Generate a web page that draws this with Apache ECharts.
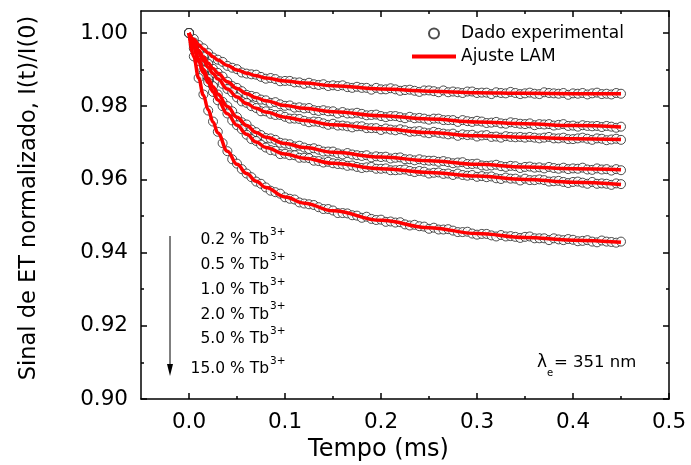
<!DOCTYPE html>
<html>
<head>
<meta charset="utf-8">
<script src="https://cdn.jsdelivr.net/npm/echarts@6.0.0/dist/echarts.min.js"></script>
<style>
  html, body { margin: 0; padding: 0; background: #fff; }
  #chart { width: 691px; height: 465px; }
</style>
</head>
<body>
<div id="chart"></div>
<script>
// tempo das medidas (ms)
var time = [
  0.000,0.005,0.010,0.015,0.020,0.025,0.030,0.035,0.040,0.045,
  0.050,0.055,0.060,0.065,0.070,0.075,0.080,0.085,0.090,0.095,
  0.100,0.105,0.110,0.115,0.120,0.125,0.130,0.135,0.140,0.145,
  0.150,0.155,0.160,0.165,0.170,0.175,0.180,0.185,0.190,0.195,
  0.200,0.205,0.210,0.215,0.220,0.225,0.230,0.235,0.240,0.245,
  0.250,0.255,0.260,0.265,0.270,0.275,0.280,0.285,0.290,0.295,
  0.300,0.305,0.310,0.315,0.320,0.325,0.330,0.335,0.340,0.345,
  0.350,0.355,0.360,0.365,0.370,0.375,0.380,0.385,0.390,0.395,
  0.400,0.405,0.410,0.415,0.420,0.425,0.430,0.435,0.440,0.445,
  0.450
];

// dado experimental, I(t)/I(0)
var exp02 = [
  1.0000,0.9984,0.9967,0.9958,0.9945,0.9933,0.9927,0.9921,0.9910,0.9905,
  0.9901,0.9892,0.9889,0.9887,0.9886,0.9880,0.9875,0.9877,0.9874,0.9868,
  0.9869,0.9869,0.9865,0.9865,0.9861,0.9864,0.9860,0.9858,0.9860,0.9855,
  0.9857,0.9855,0.9857,0.9852,0.9850,0.9853,0.9850,0.9850,0.9845,0.9850,
  0.9846,0.9846,0.9849,0.9846,0.9842,0.9844,0.9845,0.9842,0.9839,0.9843,
  0.9843,0.9841,0.9838,0.9843,0.9838,0.9840,0.9838,0.9836,0.9840,0.9840,
  0.9836,0.9837,0.9837,0.9833,0.9838,0.9836,0.9835,0.9839,0.9836,0.9833,
  0.9835,0.9837,0.9834,0.9833,0.9838,0.9836,0.9835,0.9834,0.9836,0.9831,
  0.9835,0.9834,0.9836,0.9832,0.9835,0.9837,0.9833,0.9834,0.9832,0.9836,
  0.9834
];
var exp05 = [
  1.0000,0.9974,0.9953,0.9936,0.9916,0.9902,0.9891,0.9881,0.9867,0.9855,
  0.9850,0.9841,0.9831,0.9828,0.9825,0.9818,0.9816,0.9809,0.9811,0.9805,
  0.9801,0.9802,0.9796,0.9797,0.9794,0.9795,0.9789,0.9787,0.9789,0.9786,
  0.9786,0.9780,0.9784,0.9780,0.9780,0.9782,0.9779,0.9775,0.9776,0.9777,
  0.9773,0.9770,0.9773,0.9773,0.9770,0.9767,0.9771,0.9767,0.9768,0.9766,
  0.9763,0.9766,0.9766,0.9762,0.9762,0.9762,0.9757,0.9762,0.9759,0.9757,
  0.9760,0.9758,0.9754,0.9755,0.9757,0.9753,0.9752,0.9756,0.9754,0.9752,
  0.9751,0.9753,0.9748,0.9751,0.9750,0.9751,0.9747,0.9749,0.9751,0.9746,
  0.9747,0.9744,0.9748,0.9746,0.9745,0.9746,0.9743,0.9746,0.9744,0.9741,
  0.9744
];
var exp10 = [
  1.0000,0.9969,0.9949,0.9925,0.9905,0.9891,0.9872,0.9861,0.9847,0.9838,
  0.9824,0.9813,0.9809,0.9800,0.9795,0.9786,0.9786,0.9779,0.9776,0.9776,
  0.9771,0.9766,0.9766,0.9765,0.9760,0.9756,0.9758,0.9757,0.9753,0.9749,
  0.9752,0.9747,0.9747,0.9745,0.9742,0.9745,0.9745,0.9740,0.9740,0.9740,
  0.9735,0.9739,0.9736,0.9734,0.9737,0.9734,0.9730,0.9731,0.9732,0.9728,
  0.9726,0.9730,0.9727,0.9725,0.9723,0.9725,0.9719,0.9723,0.9721,0.9722,
  0.9717,0.9720,0.9721,0.9716,0.9717,0.9714,0.9718,0.9716,0.9715,0.9716,
  0.9714,0.9716,0.9714,0.9712,0.9714,0.9716,0.9712,0.9712,0.9714,0.9710,
  0.9710,0.9712,0.9714,0.9711,0.9708,0.9712,0.9711,0.9707,0.9709,0.9711,
  0.9708
];
var exp20 = [
  1.0000,0.9965,0.9930,0.9898,0.9875,0.9855,0.9832,0.9812,0.9800,0.9786,
  0.9770,0.9756,0.9750,0.9736,0.9729,0.9721,0.9713,0.9712,0.9708,0.9700,
  0.9698,0.9696,0.9690,0.9692,0.9687,0.9683,0.9685,0.9681,0.9676,0.9676,
  0.9676,0.9671,0.9668,0.9672,0.9668,0.9666,0.9664,0.9666,0.9660,0.9663,
  0.9661,0.9662,0.9657,0.9659,0.9660,0.9655,0.9655,0.9652,0.9655,0.9652,
  0.9651,0.9651,0.9648,0.9650,0.9647,0.9644,0.9646,0.9647,0.9642,0.9642,
  0.9643,0.9638,0.9637,0.9638,0.9640,0.9636,0.9634,0.9637,0.9636,0.9631,
  0.9634,0.9635,0.9632,0.9633,0.9630,0.9634,0.9631,0.9629,0.9632,0.9628,
  0.9630,0.9629,0.9632,0.9627,0.9626,0.9630,0.9627,0.9628,0.9624,0.9628,
  0.9625
];
var exp50 = [
  1.0000,0.9958,0.9923,0.9888,0.9866,0.9839,0.9816,0.9800,0.9780,0.9761,
  0.9748,0.9737,0.9722,0.9710,0.9705,0.9695,0.9687,0.9680,0.9678,0.9669,
  0.9670,0.9666,0.9666,0.9659,0.9659,0.9658,0.9651,0.9650,0.9646,0.9648,
  0.9644,0.9642,0.9641,0.9637,0.9638,0.9634,0.9631,0.9633,0.9634,0.9629,
  0.9629,0.9630,0.9625,0.9625,0.9626,0.9627,0.9623,0.9620,0.9623,0.9621,
  0.9616,0.9618,0.9619,0.9615,0.9616,0.9612,0.9616,0.9612,0.9610,0.9612,
  0.9607,0.9609,0.9606,0.9608,0.9603,0.9601,0.9605,0.9602,0.9602,0.9597,
  0.9602,0.9598,0.9598,0.9600,0.9598,0.9594,0.9595,0.9596,0.9593,0.9590,
  0.9593,0.9594,0.9591,0.9588,0.9593,0.9588,0.9589,0.9588,0.9585,0.9589,
  0.9587
];
var exp150 = [
  1.0000,0.9936,0.9877,0.9832,0.9788,0.9758,0.9730,0.9699,0.9677,0.9655,
  0.9643,0.9628,0.9616,0.9606,0.9594,0.9588,0.9578,0.9569,0.9565,0.9561,
  0.9551,0.9547,0.9545,0.9537,0.9534,0.9532,0.9530,0.9524,0.9519,0.9519,
  0.9515,0.9508,0.9508,0.9507,0.9502,0.9501,0.9495,0.9498,0.9492,0.9489,
  0.9490,0.9484,0.9485,0.9482,0.9483,0.9477,0.9474,0.9476,0.9472,0.9471,
  0.9465,0.9468,0.9463,0.9463,0.9464,0.9460,0.9456,0.9456,0.9457,0.9452,
  0.9449,0.9451,0.9451,0.9447,0.9444,0.9448,0.9444,0.9445,0.9443,0.9440,
  0.9443,0.9444,0.9439,0.9439,0.9439,0.9434,0.9439,0.9436,0.9434,0.9437,
  0.9435,0.9431,0.9432,0.9434,0.9430,0.9428,0.9433,0.9430,0.9429,0.9427,
  0.9430
];

// ajuste LAM
var fitTime = [0, 0.005, 0.01, 0.015, 0.02, 0.025, 0.03, 0.04, 0.05, 0.06, 0.07,
               0.08, 0.1, 0.12, 0.15, 0.2, 0.25, 0.3, 0.35, 0.4, 0.45];
var fit02  = [1, 0.9983, 0.9968, 0.9956, 0.9945, 0.9935, 0.9926, 0.9911, 0.9899, 0.9890, 0.9883,
              0.9877, 0.9869, 0.9863, 0.9856, 0.9847, 0.9841, 0.9837, 0.9835, 0.9834, 0.9834];
var fit05  = [1, 0.9975, 0.9953, 0.9934, 0.9918, 0.9903, 0.9890, 0.9867, 0.9848, 0.9834, 0.9823,
              0.9815, 0.9802, 0.9794, 0.9785, 0.9774, 0.9765, 0.9757, 0.9752, 0.9747, 0.9743];
var fit10  = [1, 0.9971, 0.9946, 0.9925, 0.9906, 0.9889, 0.9874, 0.9847, 0.9825, 0.9807, 0.9794,
              0.9784, 0.9770, 0.9761, 0.9749, 0.9738, 0.9728, 0.9719, 0.9715, 0.9711, 0.9709];
var fit20  = [1, 0.9962, 0.9929, 0.9900, 0.9875, 0.9853, 0.9833, 0.9799, 0.9770, 0.9747, 0.9728,
              0.9715, 0.9698, 0.9687, 0.9674, 0.9661, 0.9651, 0.9641, 0.9634, 0.9629, 0.9626];
var fit50  = [1, 0.9958, 0.9922, 0.9891, 0.9864, 0.9839, 0.9817, 0.9779, 0.9748, 0.9723, 0.9702,
              0.9687, 0.9669, 0.9658, 0.9644, 0.9629, 0.9619, 0.9609, 0.9600, 0.9592, 0.9586];
var fit150 = [1, 0.9935, 0.9877, 0.9830, 0.9790, 0.9757, 0.9727, 0.9677, 0.9641, 0.9616, 0.9595,
              0.9578, 0.9552, 0.9535, 0.9514, 0.9488, 0.9468, 0.9452, 0.9441, 0.9434, 0.9428];

var xMajor = [0, 0.1, 0.2, 0.3, 0.4, 0.5];
var xMinor = [0.05, 0.15, 0.25, 0.35, 0.45];
var yMajor = [0.90, 0.92, 0.94, 0.96, 0.98, 1.00];
var yMinor = [0.91, 0.93, 0.95, 0.97, 0.99];
var concLabels = ['0.2', '0.5', '1.0', '2.0', '5.0', '15.0'];

var FONT = 'DejaVu Sans';
var chart = echarts.init(document.getElementById('chart'), null, { renderer: 'canvas' });

var expSets = [exp02, exp05, exp10, exp20, exp50, exp150];
var fitSets = [fit02, fit05, fit10, fit20, fit50, fit150];

var series = [];
expSets.forEach(function (arr) {
  series.push({
    name: 'Dado experimental',
    type: 'scatter',
    symbol: 'circle',
    symbolSize: 9,
    itemStyle: { color: '#fff', borderColor: '#222', borderWidth: 1 },
    data: time.map(function (t, i) { return [t, arr[i]]; }),
    z: 2
  });
});
fitSets.forEach(function (arr) {
  series.push({
    name: 'Ajuste LAM',
    type: 'line',
    symbol: 'none',
    smooth: 0.4,
    smoothMonotone: 'x',
    lineStyle: { color: '#ff0000', width: 3.5 },
    itemStyle: { color: '#ff0000' },
    data: fitTime.map(function (t, i) { return [t, arr[i]]; }),
    z: 3
  });
});

function xAxisDef(pos, major, showLine) {
  return {
    type: 'value', position: pos, min: -0.05, max: 0.5,
    axisLine: { show: showLine, onZero: false, lineStyle: { color: '#000', width: 1.5 } },
    axisTick: { show: true, inside: true, length: major ? 6 : 3,
                customValues: major ? xMajor : xMinor,
                lineStyle: { color: '#000', width: 1.5 } },
    axisLabel: { show: false },
    splitLine: { show: false }
  };
}
function yAxisDef(pos, major, showLine) {
  return {
    type: 'value', position: pos, min: 0.9, max: 1.006,
    axisLine: { show: showLine, onZero: false, lineStyle: { color: '#000', width: 1.5 } },
    axisTick: { show: true, inside: true, length: major ? 6 : 3,
                customValues: major ? yMajor : yMinor,
                lineStyle: { color: '#000', width: 1.5 } },
    axisLabel: { show: false },
    splitLine: { show: false }
  };
}

var xMain = xAxisDef('bottom', true, true);
xMain.axisLabel = {
  show: true, customValues: xMajor, margin: 12,
  fontFamily: FONT, fontSize: 21.5, color: '#000',
  formatter: function (v) { return v.toFixed(1); }
};
xMain.name = 'Tempo (ms)';
xMain.nameLocation = 'middle';
xMain.nameGap = 36;
xMain.nameTextStyle = { fontFamily: FONT, fontSize: 24, color: '#000', padding: [0, 53, 0, 0] };

var yMain = yAxisDef('left', true, true);
yMain.axisLabel = {
  show: true, customValues: yMajor, margin: 13,
  fontFamily: FONT, fontSize: 21.5, color: '#000',
  formatter: function (v) { return v.toFixed(2); }
};
yMain.name = 'Sinal de ET normalizado, I(t)/I(0)';
yMain.nameLocation = 'middle';
yMain.nameGap = 100;
yMain.nameTextStyle = { fontFamily: FONT, fontSize: 22.5, color: '#000', padding: [0, 0, 0, 14] };

var labelY = [240, 265, 290, 314.5, 339, 369];
var graphics = [];
concLabels.forEach(function (c, i) {
  graphics.push({
    type: 'text', x: 269, y: labelY[i],
    style: { text: c + ' % Tb', fontFamily: FONT, fontSize: 15.5, fill: '#000',
             textAlign: 'right', textVerticalAlign: 'middle' }
  });
  graphics.push({
    type: 'text', x: 270, y: labelY[i] - 8,
    style: { text: '3+', fontFamily: FONT, fontSize: 10.5, fill: '#000',
             textAlign: 'left', textVerticalAlign: 'middle' }
  });
});
graphics.push({
  type: 'line', shape: { x1: 170, y1: 236, x2: 170, y2: 366 },
  style: { stroke: '#000', lineWidth: 1 }
});
graphics.push({
  type: 'polygon', shape: { points: [[167, 364], [173, 364], [170, 376]] },
  style: { fill: '#000' }
});
graphics.push({
  type: 'text', x: 537, y: 363,
  style: { text: 'λ', fontFamily: FONT, fontSize: 17, fill: '#000', textVerticalAlign: 'middle' }
});
graphics.push({
  type: 'text', x: 547, y: 373,
  style: { text: 'e', fontFamily: FONT, fontSize: 10, fill: '#000', textVerticalAlign: 'middle' }
});
graphics.push({
  type: 'text', x: 554, y: 363,
  style: { text: '= 351 nm', fontFamily: FONT, fontSize: 16.5, fill: '#000', textVerticalAlign: 'middle' }
});

chart.setOption({
  backgroundColor: '#fff',
  animation: false,
  grid: { left: 141, right: 22, top: 11, bottom: 66, containLabel: false, outerBoundsMode: 'none' },
  legend: {
    orient: 'vertical', left: 407, top: 20,
    itemWidth: 44, itemHeight: 10, itemGap: 6,
    textStyle: { fontFamily: FONT, fontSize: 17, color: '#000' },
    data: [
      { name: 'Dado experimental', icon: 'circle' },
      { name: 'Ajuste LAM', icon: 'path://M0,0L44,0L44,4L0,4Z' }
    ]
  },
  xAxis: [xMain, xAxisDef('bottom', false, false), xAxisDef('top', true, true), xAxisDef('top', false, false)],
  yAxis: [yMain, yAxisDef('left', false, false), yAxisDef('right', true, true), yAxisDef('right', false, false)],
  series: series,
  graphic: graphics
});
</script>
</body>
</html>
